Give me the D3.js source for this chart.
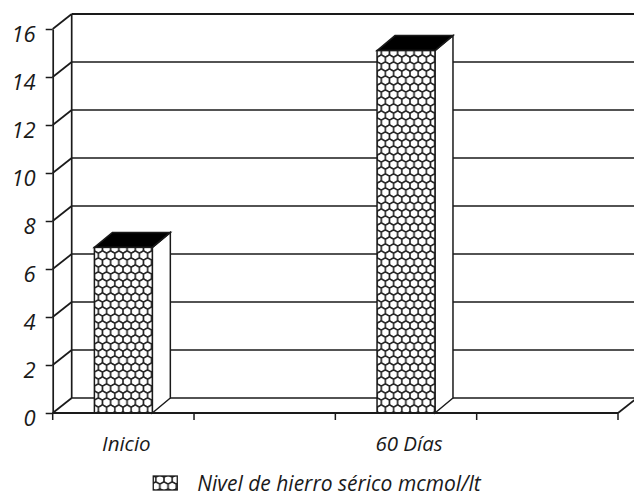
<!DOCTYPE html>
<html>
<head>
<meta charset="utf-8">
<script src="https://cdn.jsdelivr.net/npm/d3@7"></script>
<style>
  body { margin: 0; background: #fff; }
  svg text { font-family: "Open Sans", "DejaVu Sans", sans-serif; font-style: italic; fill: #1a1a1a; }
</style>
</head>
<body>
<div id="chart"></div>
<script>
// data
var slots = ["Inicio", "gap1", "60 Días", "gap2"];
var slotLabels = ["Inicio", "", "60 Días", ""];
var values = [6.9, null, 15.1, null];
var yTicks = [0, 2, 4, 6, 8, 10, 12, 14, 16];
var seriesName = "Nivel de hierro sérico mcmol/lt";

var width = 634, height = 496;
var depthX = 19, depthY = -15;
var ink = "#1a1a1a";

var svg = d3.select("#chart").append("svg")
    .attr("width", width)
    .attr("height", height);

// honeycomb pattern
var defs = svg.append("defs");
var pat = defs.append("pattern")
    .attr("id", "honey")
    .attr("patternUnits", "userSpaceOnUse")
    .attr("width", 8.2)
    .attr("height", 14)
    .attr("x", 0).attr("y", 0);
pat.append("rect").attr("width", 8.2).attr("height", 14).attr("fill", "#fff");
function hexPath(cx, cy, r) {
    var pts = d3.range(6).map(function (i) {
        var a = Math.PI / 180 * (60 * i - 90);
        return [cx + r * Math.cos(a), cy + r * Math.sin(a)];
    });
    return "M" + pts.join("L") + "Z";
}
[[4.1, 3.5], [0, 10.5], [8.2, 10.5], [0, -3.5], [8.2, -3.5], [4.1, 17.5]].forEach(function (c) {
    pat.append("path")
        .attr("d", hexPath(c[0], c[1], 4.6))
        .attr("fill", "#fff")
        .attr("stroke", "#222")
        .attr("stroke-width", 1.35);
});

var x = d3.scaleBand()
    .domain(slots)
    .range([52.7, 618])
    .padding(0);

var y = d3.scaleLinear()
    .domain([0, 16])
    .range([413, 29]);

var x0 = x.range()[0], x1 = x.range()[1];

// walls: gridlines on back and side wall
var grid = svg.append("g").attr("class", "grid");
grid.selectAll(".side")
    .data(yTicks)
    .join("line")
    .attr("x1", x0).attr("y1", function (d) { return y(d); })
    .attr("x2", x0 + depthX).attr("y2", function (d) { return y(d) + depthY; })
    .attr("stroke", ink).attr("stroke-width", 1.7);
grid.selectAll(".back")
    .data(yTicks)
    .join("line")
    .attr("x1", x0 + depthX).attr("y1", function (d) { return y(d) + depthY; })
    .attr("x2", width + 5).attr("y2", function (d) { return y(d) + depthY; })
    .attr("stroke", ink).attr("stroke-width", function (d) { return d === 16 ? 2.2 : 1.7; });
grid.append("line")
    .attr("x1", x0 + depthX).attr("y1", y(16) + depthY)
    .attr("x2", x0 + depthX).attr("y2", y(0) + depthY)
    .attr("stroke", ink).attr("stroke-width", 1.7);

// floor
var floor = svg.append("g");
floor.append("line")
    .attr("x1", x1).attr("y1", y(0))
    .attr("x2", x1 + depthX).attr("y2", y(0) + depthY)
    .attr("stroke", ink).attr("stroke-width", 1.7);

// bars
var barW = x.bandwidth() * 0.41;
var barData = slots.map(function (s, i) { return { slot: s, value: values[i] }; })
    .filter(function (d) { return d.value != null; });

var bars = svg.append("g").selectAll("g.bar")
    .data(barData)
    .join("g").attr("class", "bar");

bars.each(function (d) {
    var g = d3.select(this);
    var bx0 = x(d.slot) + (x.bandwidth() - barW) / 2;
    var bx1 = bx0 + barW;
    var yt = y(d.value), yb = y(0);
    // side face
    g.append("path")
        .attr("d", "M" + [[bx1, yt], [bx1 + depthX - 1, yt + depthY], [bx1 + depthX - 1, yb + depthY], [bx1, yb]].join("L") + "Z")
        .attr("fill", "#fff").attr("stroke", ink).attr("stroke-width", 1.5);
    // top face
    g.append("path")
        .attr("d", "M" + [[bx0, yt], [bx0 + depthX - 1, yt + depthY], [bx1 + depthX - 1, yt + depthY], [bx1, yt]].join("L") + "Z")
        .attr("fill", "#000").attr("stroke", ink).attr("stroke-width", 1.5);
    // front face
    g.append("rect")
        .attr("x", bx0).attr("y", yt)
        .attr("width", barW).attr("height", yb - yt)
        .attr("fill", "url(#honey)").attr("stroke", ink).attr("stroke-width", 1.5);
});

// front floor edge over bars
svg.append("line")
    .attr("x1", x0).attr("y1", y(0))
    .attr("x2", x1).attr("y2", y(0))
    .attr("stroke", ink).attr("stroke-width", 1.8);

// y axis
var yAxis = svg.append("g")
    .attr("transform", "translate(" + x0 + ",0)")
    .call(d3.axisLeft(y).tickValues(yTicks).tickSize(7).tickSizeOuter(0).tickFormat(d3.format("d")));
yAxis.select(".domain").attr("stroke", ink).attr("stroke-width", 1.7);
yAxis.selectAll(".tick line").attr("stroke", ink).attr("stroke-width", 1.5);
yAxis.selectAll(".tick text")
    .attr("x", -17).attr("dy", "0.55em")
    .style("font-size", "22px")
    .attr("fill", "#1a1a1a");

// x axis
var xTickPos = slots.map(function (s) { return x(s); }).concat([x1]);
svg.append("g").selectAll("line")
    .data(xTickPos)
    .join("line")
    .attr("x1", function (d) { return d; }).attr("y1", y(0))
    .attr("x2", function (d) { return d; }).attr("y2", y(0) + 7)
    .attr("stroke", ink).attr("stroke-width", 1.5);

svg.append("g").selectAll("text")
    .data(slots)
    .join("text")
    .attr("x", function (d) { return x(d) + x.bandwidth() / 2 + 3; })
    .attr("y", 451)
    .attr("text-anchor", "middle")
    .style("font-size", "20.5px")
    .text(function (d, i) { return slotLabels[i]; });

// legend
var legend = svg.append("g");
var legText = legend.append("text")
    .attr("x", 0).attr("y", 491)
    .style("font-size", "21px")
    .text(seriesName);
var tw = legText.node().getComputedTextLength();
var boxW = 24, gap = 20;
var lx = (width - (boxW + gap + tw)) / 2;
legend.append("rect")
    .attr("x", lx).attr("y", 476)
    .attr("width", boxW).attr("height", 14)
    .attr("fill", "url(#honey)").attr("stroke", ink).attr("stroke-width", 1.3);
legText.attr("x", lx + boxW + gap);
</script>
</body>
</html>
